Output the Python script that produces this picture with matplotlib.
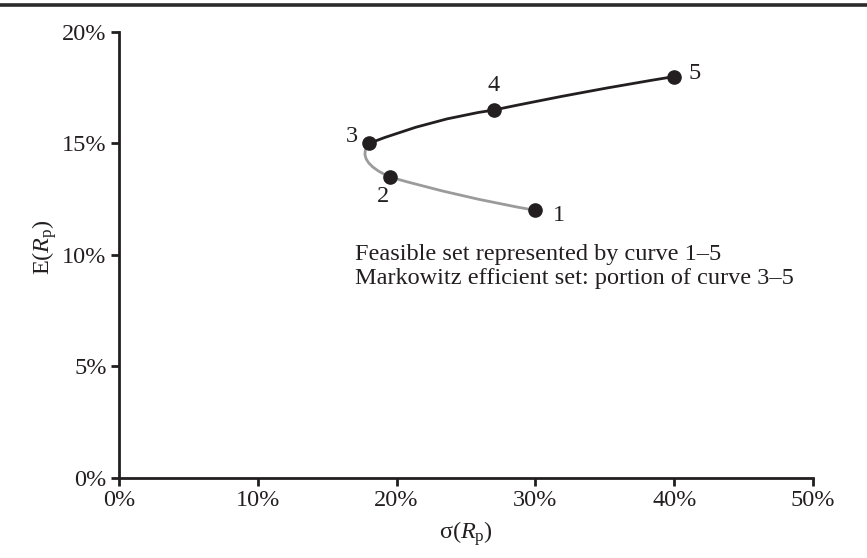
"""
Feasible set and Markowitz efficient set, sigma vs expected return.
"""

import matplotlib
matplotlib.use("Agg")
import matplotlib.pyplot as plt
from matplotlib.path import Path
from matplotlib.patches import PathPatch
from matplotlib.lines import Line2D
from matplotlib.ticker import FuncFormatter

# portfolio points 1..5 (sigma %, expected return %)
point_names = ["1", "2", "3", "4", "5"]
sigma = [30, 19.5, 18, 27, 40]
ret = [12, 13.5, 15, 16.5, 18]

# bend points of the curve (one between each pair)
bend_sigma = [24.5, 17.0, 22.5, 33.5]
bend_ret = [12.6, 14.2, 16.1, 17.35]

x_ticks = [0, 10, 20, 30, 40, 50]
y_ticks = [0, 5, 10, 15, 20]

note_lines = ["Feasible set represented by curve 1\u20135",
              "Markowitz efficient set: portion of curve 3\u20135"]

ink = "#231f20"
fs = 17.5
plt.rcParams["font.family"] = ["Liberation Serif", "DejaVu Serif"]
plt.rcParams["mathtext.fontset"] = "custom"
plt.rcParams["mathtext.rm"] = "Liberation Serif"
plt.rcParams["mathtext.it"] = "Liberation Serif:italic"

fig = plt.figure(figsize=(8.67, 5.58), dpi=100)
ax = fig.add_axes([0.1373, 0.1434, 0.8004, 0.7993])

# rule along the top of the page
fig.add_artist(Line2D([0, 1], [1 - 4.5 / 558, 1 - 4.5 / 558], color="#2b2b2b",
                      lw=2.6, transform=fig.transFigure))


def segment(a, b):
    # quadratic curve from point a to point b through bend a
    return [(sigma[a], ret[a]), (bend_sigma[a], bend_ret[a]), (sigma[b], ret[b])]


codes = [Path.MOVETO, Path.CURVE3, Path.CURVE3, Path.CURVE3, Path.CURVE3]
# gray part: 1 -> 2 -> 3
gray = segment(0, 1) + segment(1, 2)[1:]
ax.add_patch(PathPatch(Path(gray, codes), fc="none", ec="#9b9b9b", lw=2.0,
                       capstyle="round", zorder=2))
# black part: 3 -> 4 -> 5
black = segment(2, 3) + segment(3, 4)[1:]
ax.add_patch(PathPatch(Path(black, codes), fc="none", ec=ink, lw=2.0,
                       capstyle="round", zorder=3))

ax.plot(sigma, ret, "o", color=ink, ms=9.5, zorder=4)

label_offsets = [(17, -4), (-5, -14), (-12, 5), (0, 18), (15, 2)]
for name, x, y, off in zip(point_names, sigma, ret, label_offsets):
    ax.annotate(name, (x, y), xytext=off, textcoords="offset points",
                ha="center", va="center", fontsize=fs, color=ink)

ax.text(17.0, 9.48, "\n".join(note_lines), ha="left", va="center",
        fontsize=fs, color=ink, linespacing=1.15)

ax.set_xlim(0, 50)
ax.set_ylim(0, 20)
ax.set_xticks(x_ticks)
ax.set_yticks(y_ticks)
pct = FuncFormatter(lambda v, p: "%d%%" % v)
ax.xaxis.set_major_formatter(pct)
ax.yaxis.set_major_formatter(pct)

for s in ["top", "right"]:
    ax.spines[s].set_visible(False)
for s in ["left", "bottom"]:
    ax.spines[s].set_linewidth(2.0)
    ax.spines[s].set_color(ink)
ax.tick_params(direction="out", length=6, width=2.0, color=ink,
               labelsize=fs, labelcolor=ink, pad=3)

ax.set_xlabel("\u03c3" + r"$(\mathit{R}_\mathrm{p})$", fontsize=fs, color=ink)
ax.set_ylabel(r"E$(\mathit{R}_\mathrm{p})$", fontsize=fs, color=ink)
ax.xaxis.set_label_coords(0.5, -0.092)
ax.yaxis.set_label_coords(-0.086, 0.518)

fig.savefig("out.png", dpi=100)
